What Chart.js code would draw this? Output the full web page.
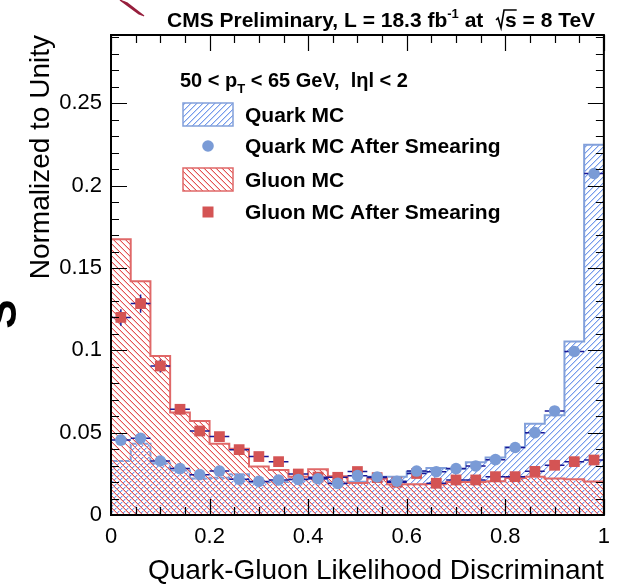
<!DOCTYPE html>
<html><head><meta charset="utf-8">
<script src="https://cdn.jsdelivr.net/npm/chart.js@4.4.0/dist/chart.umd.min.js"></script>
<style>html,body{margin:0;padding:0;background:#fff;}#wrap{width:619px;height:585px;position:relative;}</style>
</head><body><div id="wrap"><canvas id="c" width="619" height="585"></canvas></div>
<script>
// ---- data (25 bins of width 0.04 on the discriminant) ----
const binEdges = [0,0.04,0.08,0.12,0.16,0.2,0.24,0.28,0.32,0.36,0.4,0.44,0.48,0.52,0.56,0.6,0.64,0.68,0.72,0.76,0.8,0.84,0.88,0.92,0.96,1.0];
const quarkMC = [0.0328,0.0432,0.0314,0.0270,0.0222,0.0226,0.0247,0.0197,0.0200,0.0217,0.0220,0.0197,0.0202,0.0232,0.0233,0.0262,0.0286,0.0280,0.0320,0.0349,0.0412,0.0554,0.0606,0.1053,0.2248];
const gluonMC = [0.1675,0.1420,0.0966,0.0622,0.0571,0.0432,0.0403,0.0294,0.0274,0.0232,0.0278,0.0235,0.0195,0.0222,0.0187,0.0186,0.0188,0.0200,0.0200,0.0205,0.0225,0.0232,0.0222,0.0217,0.0203];
const quarkSmeared = [0.0455,0.0466,0.0328,0.0282,0.0245,0.0267,0.0217,0.0204,0.0213,0.0216,0.0220,0.0192,0.0239,0.0231,0.0205,0.0267,0.0263,0.0282,0.0298,0.0336,0.0410,0.0500,0.0632,0.0993,0.2074];
const gluonSmeared = [0.1200,0.1284,0.0905,0.0642,0.0510,0.0476,0.0397,0.0355,0.0324,0.0249,0.0230,0.0229,0.0264,0.0227,0.0199,0.0252,0.0193,0.0213,0.0213,0.0233,0.0233,0.0265,0.0302,0.0324,0.0334];
const quarkErr = [0.0015,0.0015,0.0012,0.0012,0.0010,0.0010,0.0010,0.0010,0.0010,0.0010,0.0010,0.0010,0.0010,0.0010,0.0010,0.0010,0.0010,0.0010,0.0010,0.0012,0.0012,0.0014,0.0015,0.0020,0.0025];
const gluonErr = [0.0050,0.0055,0.0040,0.0030,0.0022,0.0020,0.0018,0.0016,0.0015,0.0013,0.0012,0.0012,0.0012,0.0012,0.0011,0.0011,0.0011,0.0011,0.0011,0.0012,0.0012,0.0012,0.0012,0.0012,0.0012];
const xTickLabels = ['0','0.2','0.4','0.6','0.8','1'];
const yTickLabels = ['0','0.05','0.1','0.15','0.2','0.25'];

const FONT = "'Liberation Sans', Arial, Helvetica, sans-serif";
const BLUE = 'rgb(122,155,214)';
const RED = 'rgb(212,84,84)';
const BLUE_LINE = 'rgb(130,160,218)';
const RED_LINE = 'rgb(224,104,104)';
const ERR = 'rgb(24,24,150)';

const canvas = document.getElementById('c');
const ctx = canvas.getContext('2d');

// diagonal hatching, like ROOT fill styles 3004/3005
function hatch(color, dir, soft) {
  const s = 6;
  const c = document.createElement('canvas');
  c.width = s; c.height = s;
  const g = c.getContext('2d');
  for (let i = 0; i < s; i++) {
    const y = dir > 0 ? s - 1 - i : i;
    g.fillStyle = color;
    g.fillRect(i, y, 1, 1);
    if (soft) {
      g.fillStyle = soft;
      g.fillRect(i, (y + 1) % s, 1, 1);
    }
  }
  return ctx.createPattern(c, 'repeat');
}
const quarkPattern = hatch('rgb(118,155,235)', 1, 'rgb(200,216,248)');
const gluonPattern = hatch('rgb(228,82,82)', -1, 'rgb(246,200,200)');

function stepData(vals) {
  const pts = vals.map((v, i) => ({x: binEdges[i], y: v}));
  pts.push({x: binEdges[vals.length], y: vals[vals.length - 1]});
  return pts;
}
function centerData(vals) {
  return vals.map((v, i) => ({x: (binEdges[i] + binEdges[i + 1]) / 2, y: v}));
}

const errorBars = {
  id: 'errorBars',
  beforeDatasetDraw(chart, args) {
    const ds = chart.data.datasets[args.index];
    if (!ds.errY) return;
    const xs = chart.scales.x, ys = chart.scales.y, c = chart.ctx;
    c.save();
    c.strokeStyle = ERR; c.lineWidth = 1.5;
    ds.data.forEach((p, i) => {
      const lo = binEdges[i], hi = binEdges[i + 1];
      const py = ys.getPixelForValue(p.y);
      const px = xs.getPixelForValue(p.x);
      c.beginPath();
      c.moveTo(xs.getPixelForValue(lo), py); c.lineTo(xs.getPixelForValue(hi), py);
      c.moveTo(px, ys.getPixelForValue(p.y - ds.errY[i])); c.lineTo(px, ys.getPixelForValue(p.y + ds.errY[i]));
      c.stroke();
    });
    c.restore();
  }
};

const decorations = {
  id: 'decorations',
  afterDraw(chart) {
    const c = chart.ctx, xs = chart.scales.x, ys = chart.scales.y;
    const a = chart.chartArea;
    c.save();
    // ticks on all four sides, pointing inward
    c.strokeStyle = '#000'; c.lineWidth = 1.2;
    c.beginPath();
    for (let k = 0; k <= 20; k++) {
      const v = k * 0.05;
      const px = Math.round(xs.getPixelForValue(v)) + 0.5;
      const len = (k % 4 === 0) ? 16 : 8;
      c.moveTo(px, a.bottom); c.lineTo(px, a.bottom - len);
      c.moveTo(px, a.top); c.lineTo(px, a.top + len);
    }
    for (let k = 0; k <= 29; k++) {
      const v = k * 0.01;
      if (v > ys.max) break;
      const py = Math.round(ys.getPixelForValue(v)) + 0.5;
      const len = (k % 5 === 0) ? 16 : 8;
      c.moveTo(a.left, py); c.lineTo(a.left + len, py);
      c.moveTo(a.right, py); c.lineTo(a.right - len, py);
    }
    c.stroke();
    c.lineWidth = 2;
    c.strokeRect(a.left, a.top, a.right - a.left, a.bottom - a.top);

    // header
    c.fillStyle = '#000';
    c.strokeStyle = '#000';
    c.textBaseline = 'alphabetic';
    let x = 167; const by = 27;
    const part = (t, f, dy) => { c.font = f; c.fillText(t, x, by + (dy || 0)); x += c.measureText(t).width; };
    part('CMS Preliminary, L = 18.3 fb', 'bold 21px ' + FONT);
    part('-1', 'bold 13px ' + FONT, -9);
    part(' at  ', 'bold 21px ' + FONT);
    c.font = 'bold 21px ' + FONT;
    const sw = c.measureText('s').width;
    c.lineWidth = 1.6;
    c.beginPath();
    c.moveTo(x + 1, by - 7); c.lineTo(x + 3, by - 9); c.lineTo(x + 6, by + 1); c.lineTo(x + 9, by - 17);
    c.lineTo(x + 10 + sw, by - 17);
    c.stroke();
    x += 10;
    part('s', 'bold 21px ' + FONT);
    part(' = 8 TeV', 'bold 21px ' + FONT);

    // kinematic label
    x = 180; const ky = 87;
    const kp = (t, f, dy) => { c.font = f; c.fillText(t, x, ky + (dy || 0)); x += c.measureText(t).width; };
    kp('50 < p', 'bold 20px ' + FONT);
    kp('T', 'bold 13px ' + FONT, 6);
    kp(' < 65 GeV,  l', 'bold 20px ' + FONT);
    kp('\u03b7', 'bold 20px ' + FONT);
    kp('l < 2', 'bold 20px ' + FONT);

    // legend
    c.font = 'bold 21px ' + FONT;
    c.textBaseline = 'middle';
    const tx = 245;
    const box = (y0, pat, col) => {
      c.fillStyle = '#fff'; c.fillRect(183, y0, 50, 23);
      c.fillStyle = pat; c.fillRect(183, y0, 50, 23);
      c.strokeStyle = col; c.lineWidth = 1.5; c.strokeRect(183, y0, 50, 23);
    };
    box(103, quarkPattern, BLUE_LINE);
    box(168, gluonPattern, RED_LINE);
    c.fillStyle = BLUE; c.beginPath(); c.arc(208, 146, 5.8, 0, Math.PI * 2); c.fill();
    c.fillStyle = RED; c.fillRect(202.5, 206.5, 11, 11);
    c.fillStyle = '#000';
    c.fillText('Quark MC', tx, 116);
    c.fillText('Quark MC After Smearing', tx, 147);
    c.fillText('Gluon MC', tx, 181);
    c.fillText('Gluon MC After Smearing', tx, 213);

    // cropped-off remnants at edges of the original figure
    c.save();
    c.translate(16, 314); c.rotate(-Math.PI / 2);
    c.font = 'bold 44px ' + FONT; c.textAlign = 'center'; c.textBaseline = 'alphabetic';
    c.fillStyle = '#000'; c.fillText('S', 0, 0);
    c.restore();
    c.strokeStyle = 'rgb(150,30,60)'; c.lineWidth = 1.3;
    c.beginPath();
    for (let i = 0; i < 6; i++) { c.moveTo(120 + i * 1.3, i * 0.5); c.lineTo(139 + i * 1.0, 14 + i * 0.4); }
    c.stroke();
    c.restore();
  }
};

new Chart(canvas, {
  type: 'line',
  data: {
    datasets: [
      { label: 'Quark MC After Smearing', data: centerData(quarkSmeared), errY: quarkErr, showLine: false,
        pointStyle: 'circle', pointRadius: 5.8, pointBackgroundColor: BLUE, pointBorderWidth: 0, order: 0 },
      { label: 'Gluon MC After Smearing', data: centerData(gluonSmeared), errY: gluonErr, showLine: false,
        pointStyle: 'rect', pointRadius: 7.6, pointBackgroundColor: RED, pointBorderWidth: 0, order: 1 },
      { label: 'Gluon MC', data: stepData(gluonMC), stepped: 'before', fill: 'origin',
        backgroundColor: gluonPattern, borderColor: RED_LINE, borderWidth: 2, pointRadius: 0, order: 2 },
      { label: 'Quark MC', data: stepData(quarkMC), stepped: 'before', fill: 'origin',
        backgroundColor: quarkPattern, borderColor: BLUE_LINE, borderWidth: 2, pointRadius: 0, order: 3 }
    ]
  },
  options: {
    responsive: false, animation: false, devicePixelRatio: 1,
    layout: { padding: { top: 35, right: 8, left: 0, bottom: 0 } },
    plugins: { legend: { display: false }, tooltip: { enabled: false } },
    scales: {
      x: {
        type: 'linear', min: 0, max: 1,
        afterFit(s) { s.height = 70; },
        grid: { display: false, drawTicks: false },
        border: { display: false },
        ticks: { stepSize: 0.2, padding: 9, color: '#000', font: { family: FONT, size: 22 },
          maxRotation: 0, autoSkip: false,
          callback: (v) => xTickLabels[Math.round(v / 0.2)] },
        title: { display: true, text: 'Quark-Gluon Likelihood Discriminant', align: 'end', color: '#000',
          font: { family: FONT, size: 28, lineHeight: 1.0 }, padding: { top: 0, bottom: 0 } }
      },
      y: {
        type: 'linear', min: 0, max: 0.2915,
        afterFit(s) { s.width = 111; },
        grid: { display: false, drawTicks: false },
        border: { display: false },
        ticks: { stepSize: 0.05, includeBounds: false, padding: 9, color: '#000', font: { family: FONT, size: 22 },
          callback: (v) => yTickLabels[Math.round(v / 0.05)] },
        title: { display: true, text: 'Normalized to Unity', align: 'end', color: '#000',
          font: { family: FONT, size: 28, lineHeight: 1.0 }, padding: { top: 27, bottom: 0 } }
      }
    }
  },
  plugins: [errorBars, decorations]
});
</script>
</body></html>
